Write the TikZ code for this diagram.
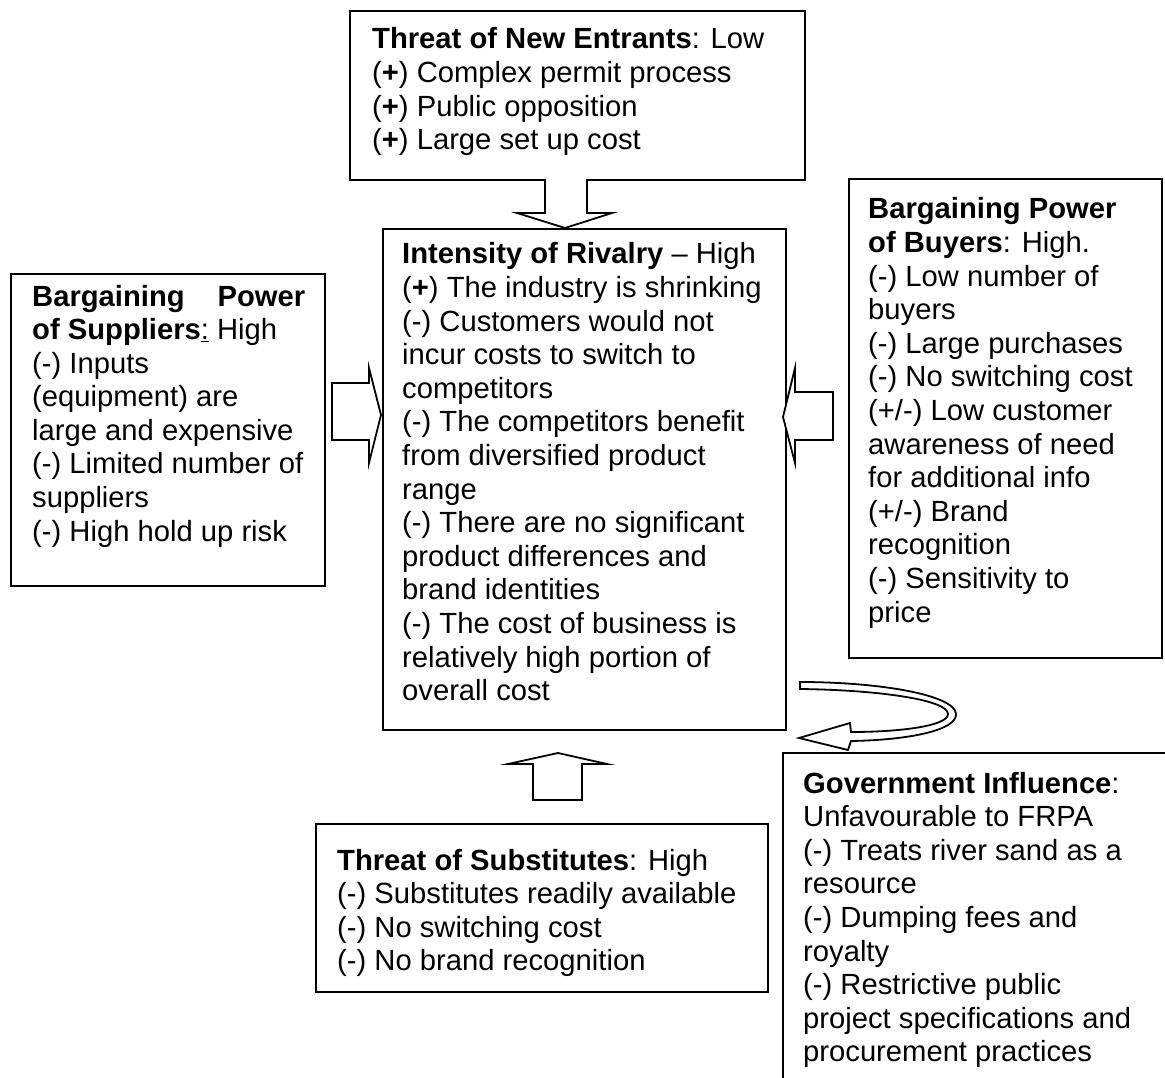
\documentclass[tikz,border=0pt]{standalone}
\usepackage{fontspec}
\setmainfont{Liberation Sans}
\begin{document}
\begin{tikzpicture}[x=1pt,y=-1pt,
  box/.style={draw=black,line width=1.8pt,inner sep=0pt,minimum width=#1},
  blockarrow/.style={draw=black,line width=1.8pt,line join=miter,fill=white},
  txt/.style={anchor=base west,inner sep=0pt,font=\fontsize{29.2pt}{33.6pt}\selectfont}]
\useasboundingbox (0,0) rectangle (1165,1078);
\newcommand{\blk}[1]{\vtop{\baselineskip=33.6pt\lineskiplimit=-20pt #1}}
% boxes
\node[box=455pt,minimum height=169pt,anchor=north west] (ne) at (349,10) {};
\node[box=403pt,minimum height=501pt,anchor=north west] (riv) at (382,228) {};
\node[box=314pt,minimum height=312pt,anchor=north west] (sup) at (10,273) {};
\node[box=313pt,minimum height=479pt,anchor=north west] (buy) at (848,178) {};
\node[box=452pt,minimum height=168pt,anchor=north west] (sub) at (315,823) {};
\coordinate (govbl) at (783,1078);
\coordinate (govtl) at (783,753);
\coordinate (govtr) at (1165,753);
\draw[line width=1.8pt] (govbl) -- (govtl) -- (govtr);
% texts
\node[txt] (tne) at (372,49) {\blk{%
\hbox{\textbf{Threat of New Entrants}: Low}
\hbox{(\textbf{+}) Complex permit process}
\hbox{(\textbf{+}) Public opposition}
\hbox{(\textbf{+}) Large set up cost}}};
\node[txt] (triv) at (402,264) {\blk{%
\hbox{\textbf{Intensity of Rivalry} -- High}
\hbox{(\textbf{+}) The industry is shrinking}
\hbox{(-) Customers would not}
\hbox{incur costs to switch to}
\hbox{competitors}
\hbox{(-) The competitors benefit}
\hbox{from diversified product}
\hbox{range}
\hbox{(-) There are no significant}
\hbox{product differences and}
\hbox{brand identities}
\hbox{(-) The cost of business is}
\hbox{relatively high portion of}
\hbox{overall cost}}};
\node[txt] (tsup) at (32,306) {\blk{%
\hbox to 273pt{\textbf{Bargaining}\hfill\textbf{Power}}
\hbox{\textbf{of Suppliers}\underline{:} High}
\hbox{(-) Inputs}
\hbox{(equipment) are}
\hbox{large and expensive}
\hbox{(-) Limited number of}
\hbox{suppliers}
\hbox{(-) High hold up risk}}};
\node[txt] (tbuy) at (868,219) {\blk{%
\hbox{\textbf{Bargaining Power}}
\hbox{\textbf{of Buyers}: High.}
\hbox{(-) Low number of}
\hbox{buyers}
\hbox{(-) Large purchases}
\hbox{(-) No switching cost}
\hbox{(+/-) Low customer}
\hbox{awareness of need}
\hbox{for additional info}
\hbox{(+/-) Brand}
\hbox{recognition}
\hbox{(-) Sensitivity to}
\hbox{price}}};
\node[txt] (tsub) at (337,870) {\blk{%
\hbox{\textbf{Threat of Substitutes}: High}
\hbox{(-) Substitutes readily available}
\hbox{(-) No switching cost}
\hbox{(-) No brand recognition}}};
\node[txt] (tgov) at (803,793) {\blk{%
\hbox{\textbf{Government Influence}:}
\hbox{Unfavourable to FRPA}
\hbox{(-) Treats river sand as a}
\hbox{resource}
\hbox{(-) Dumping fees and}
\hbox{royalty}
\hbox{(-) Restrictive public}
\hbox{project specifications and}
\hbox{procurement practices}}};
% block arrows
\draw[blockarrow] (545,179) -- (545,213) -- (517,213) -- (565,228) -- (612,213) -- (587,213) -- (587,179);
\draw[blockarrow] (332,383) -- (369,383) -- (369,368) -- (381,415) -- (369,463) -- (369,440) -- (332,440) -- cycle;
\draw[blockarrow] (833,392) -- (795,392) -- (795,368) -- (783,417) -- (795,463) -- (795,440) -- (833,440) -- cycle;
\draw[blockarrow] (533,800) -- (533,764) -- (508,764) -- (558,753) -- (607,764) -- (582,764) -- (582,800) -- cycle;
\draw[blockarrow] (800,682) -- (800,689)
  .. controls (880,690) and (948,700) .. (948,714)
  .. controls (948,726) and (900,732) .. (851,732)
  -- (850,723) -- (799,738) -- (848,750) -- (851,741)
  .. controls (910,740) and (957,730) .. (956,714)
  .. controls (955,695) and (880,682) .. (800,682) -- cycle;
\end{tikzpicture}
\end{document}
